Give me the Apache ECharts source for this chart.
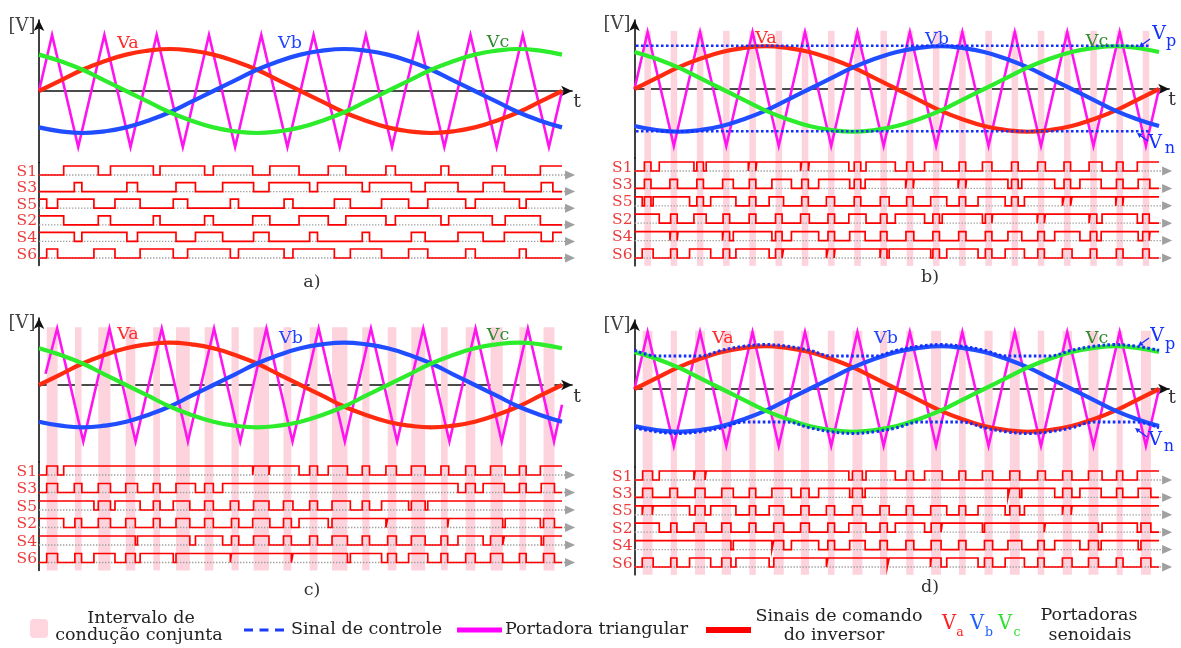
<!DOCTYPE html>
<html><head><meta charset="utf-8">
<script src="https://cdn.jsdelivr.net/npm/echarts@6/dist/echarts.min.js"></script>
<style>html,body{margin:0;padding:0;background:#fff}#c{width:1181px;height:648px}</style>
</head><body><div id="c"></div>
<script>
// ---------- DATA ----------
const theta = [0,15,30,45,60,75,90,105,120,135,150,165,180,195,210,225,240,255,270,285,300,315,330,345,360];
const Va = [0,0.19,0.38,0.53,0.65,0.72,0.75,0.72,0.65,0.53,0.38,0.19,0,-0.19,-0.38,-0.53,-0.65,-0.72,-0.75,-0.72,-0.65,-0.53,-0.38,-0.19,0];
const Vb = [-0.65,-0.72,-0.75,-0.72,-0.65,-0.53,-0.38,-0.19,0,0.19,0.38,0.53,0.65,0.72,0.75,0.72,0.65,0.53,0.38,0.19,0,-0.19,-0.38,-0.53,-0.65];
const Vc = [0.65,0.53,0.38,0.19,0,-0.19,-0.38,-0.53,-0.65,-0.72,-0.75,-0.72,-0.65,-0.53,-0.38,-0.19,0,0.19,0.38,0.53,0.65,0.72,0.75,0.72,0.65];

const carrierT = [0,9,27,45,63,81,99,117,135,153,171,189,207,225,243,261,279,297,315,333,351,360];
const carrierV = [0,1,-1,1,-1,1,-1,1,-1,1,-1,1,-1,1,-1,1,-1,1,-1,1,-1,0];
const carrierCT = [4.5,12.5,30.5,48.5,66.5,84.5,102.5,120.5,138.5,156.5,174.5,192.5,210.5,228.5,246.5,264.5,282.5,300.5,318.5,336.5,354.5,360];
const carrierCV = [0.2,1,-1,1,-1,1,-1,1,-1,1,-1,1,-1,1,-1,1,-1,1,-1,1,-1,-0.35];

const ctrlB_t = [1, 354];
const ctrlB_p = [0.76, 0.76];
const ctrlB_n = [-0.74, -0.74];
const ctrlD_p = [0.68,0.58,0.58,0.58,0.68,0.75,0.78,0.75,0.68,0.58,0.58,0.58,0.68,0.75,0.78,0.75,0.68,0.58,0.58,0.58,0.68,0.75,0.78,0.75,0.68];
const ctrlD_n = [-0.68,-0.75,-0.78,-0.75,-0.68,-0.58,-0.58,-0.58,-0.68,-0.75,-0.78,-0.75,-0.68,-0.58,-0.58,-0.58,-0.68,-0.75,-0.78,-0.75,-0.68,-0.58,-0.58,-0.58,-0.68];

const signalNames = ['S1','S3','S5','S2','S4','S6'];

// switching instants (degrees of the fundamental), state toggles at each instant
const a_init = [0,0,1,1,1,0];
const a_S1 = [17.0,40.8,49.2,78.7,83.3,114.0,120.0,147.1,158.9,179.0,199.1,211.2,238.8,245.3,276.7,282.0,312.0,320.9,345.1];
const a_S3 = [24.3,29.5,60.5,67.8,94.3,107.7,126.4,147.7,158.3,186.3,191.7,222.5,227.5,256.3,265.8,288.4,305.7,320.3,345.7,353.7];
const a_S5 = [5.3,12.8,37.8,52.3,69.6,92.4,102.3,131.7,137.3,168.7,174.8,203.3,214.3,235.8,254.4,267.6,293.7,300.3,330.7,335.3];
const a_S2 = [17.0,40.8,49.2,78.7,83.3,114.0,120.0,147.1,158.9,179.0,199.1,211.2,238.8,245.3,276.7,282.0,312.0,320.9,345.1];
const a_S4 = [24.3,29.5,60.5,67.8,94.3,107.7,126.4,147.7,158.3,186.3,191.7,222.5,227.5,256.3,265.8,288.4,305.7,320.3,345.7,353.7];
const a_S6 = [5.3,12.8,37.8,52.3,69.6,92.4,102.3,131.7,137.3,168.7,174.8,203.3,214.3,235.8,254.4,267.6,293.7,300.3,330.7,335.3];

const b_init = [0,0,1,1,1,0];
const b_S1 = [6.8,11.3,17.0,40.8,42.8,47.3,49.2,78.1,78.8,83.3,83.9,114.0,114.8,119.3,120.0,147.1,150.8,155.3,158.9,179.0,186.8,191.3,199.1,211.2,222.8,227.3,238.8,245.3,258.8,263.3,276.7,282.0,294.8,299.3,312.0,320.9,330.8,335.3,345.1];
const b_S3 = [6.8,11.3,24.3,29.5,42.8,47.3,60.5,67.8,78.8,83.3,94.3,107.7,114.8,119.3,126.4,147.7,150.8,155.3,158.3,186.1,186.8,191.3,191.9,222.1,222.8,227.3,227.9,256.3,258.8,263.3,265.8,288.4,294.8,299.3,305.7,320.3,330.8,335.3,345.7,353.7];
const b_S5 = [5.3,6.8,11.3,12.8,37.8,42.8,47.3,52.3,69.6,78.8,83.3,92.4,102.3,114.8,119.3,131.7,137.3,150.8,155.3,168.7,174.8,186.8,191.3,203.3,214.3,222.8,227.3,235.8,254.4,258.8,263.3,267.6,293.7,294.8,299.3,300.3,330.3,330.9,335.1,335.7];
const b_S2 = [17.0,24.8,29.3,40.8,49.2,60.8,65.3,78.7,83.3,96.8,101.3,114.0,120.0,132.8,137.3,147.1,158.9,168.8,173.3,179.0,199.1,204.8,209.3,211.2,238.8,240.8,245.3,245.8,276.4,276.9,281.3,282.0,312.0,312.8,317.3,320.9,345.1,348.8,353.3];
const b_S4 = [24.3,24.8,29.3,29.8,60.4,60.9,65.3,67.8,94.3,96.8,101.3,107.7,126.4,132.8,137.3,147.7,158.3,168.8,173.3,186.3,191.7,204.8,209.3,222.5,227.5,240.8,245.3,256.3,265.8,276.8,281.3,288.4,305.7,312.8,317.3,320.3,345.7,348.8,353.3,353.8];
const b_S6 = [5.3,12.8,24.8,29.3,37.8,52.3,60.8,65.3,69.6,92.4,96.8,101.3,102.3,131.7,132.8,137.0,137.6,168.5,169.1,173.3,174.8,203.3,204.8,209.3,214.3,235.8,240.8,245.3,254.4,267.6,276.8,281.3,293.7,300.3,312.8,317.3,330.7,335.3,348.8,353.3];

const c_init = [0,0,1,1,1,0];
const c_S1 = [5.3,12.8,17.0,147.1,147.7,158.3,158.9,179.0,186.3,191.7,199.1,212.3,222.5,227.5,238.8,246.0,256.3,265.8,276.7,282.0,293.7,300.3,310.8,320.9,330.7,335.3,345.1];
const c_S3 = [5.3,12.8,24.3,29.5,40.8,49.2,59.7,67.8,78.7,83.3,94.3,107.7,114.0,120.0,126.4,288.4,293.7,300.3,305.7,320.3,330.7,335.3,345.7,354.8];
const c_S5 = [37.8,40.8,49.2,52.3,69.6,78.7,83.3,92.4,103.8,114.0,120.0,131.7,137.5,147.7,158.3,168.3,174.8,186.3,191.7,201.7,214.3,222.5,227.5,235.8,254.4,256.3,265.8,267.6];
const c_S2 = [17.0,24.7,29.3,40.8,49.2,59.7,66.3,78.7,83.3,94.3,103.8,114.0,120.0,132.5,137.5,147.1,158.9,168.3,173.7,179.0,199.1,201.7,238.8,240.0,281.3,282.0,319.2,320.9,345.1,347.3,354.8];
const c_S4 = [66.3,67.8,103.8,107.7,126.4,132.5,137.5,147.7,158.3,168.3,173.7,186.3,191.7,201.7,212.3,222.5,227.5,240.0,246.0,256.3,265.8,276.7,281.3,288.4,305.7,310.8,319.2,320.3,345.7,347.3];
const c_S6 = [5.3,12.8,24.7,29.3,37.8,52.3,59.7,66.3,69.6,92.4,94.3,131.7,132.5,173.7,174.8,212.3,214.3,235.8,240.0,246.0,254.4,267.6,276.7,281.3,293.7,300.3,310.8,319.2,330.7,335.3,347.3,354.8];

const d_init = [0,0,1,1,1,0];
const d_S1 = [5.6,12.4,17.0,40.8,41.6,48.4,49.2,147.1,149.6,156.4,158.9,179.0,186.5,191.5,199.1,211.2,222.7,227.3,238.8,245.8,257.6,264.4,276.7,282.0,293.9,300.2,311.6,320.9,330.9,335.1,345.1];
const d_S3 = [5.6,12.4,24.3,29.5,41.6,48.4,59.9,67.8,78.8,83.2,94.3,107.7,114.2,119.8,126.4,147.7,149.6,156.4,158.3,256.3,257.6,264.4,265.8,288.4,293.9,300.2,305.7,320.3,330.9,335.1,345.7,354.4];
const d_S5 = [5.3,5.9,12.2,12.8,37.8,41.6,48.4,52.3,69.6,78.8,83.2,92.4,102.4,114.2,119.8,131.7,137.3,149.6,156.4,168.5,174.8,186.5,191.5,203.3,214.3,222.7,227.3,235.8,254.4,257.6,264.4,267.6,293.7,294.3,299.7,300.3];
const d_S2 = [17.0,24.9,29.1,40.8,49.2,59.9,66.2,78.7,83.3,95.6,102.4,114.0,120.0,132.7,137.3,147.1,158.9,168.5,173.5,179.0,199.1,203.6,210.4,211.2,238.8,240.2,281.2,282.0,318.4,320.9,345.1,347.6,354.4];
const d_S4 = [66.2,67.8,94.3,95.6,102.4,107.7,126.4,132.7,137.3,147.7,158.3,168.5,173.5,186.3,191.7,203.6,210.4,222.5,227.5,240.2,245.8,256.3,265.8,276.8,281.2,288.4,305.7,311.6,318.4,320.3,345.7,347.6];
const d_S6 = [5.3,12.8,24.9,29.1,37.8,52.3,59.9,66.2,69.6,92.4,95.6,131.7,132.7,173.5,174.8,203.1,203.7,210.4,214.3,235.8,240.2,245.8,254.4,267.6,276.8,281.2,293.7,300.3,311.6,318.4,330.7,335.3,347.6,354.4];

// joint-conduction (shoot-through) intervals
const stripesB = [[6.8,11.3],[24.8,29.3],[42.8,47.3],[60.8,65.3],[78.8,83.3],[96.8,101.3],[114.8,119.3],[132.8,137.3],[150.8,155.3],[168.8,173.3],[186.8,191.3],[204.8,209.3],[222.8,227.3],[240.8,245.3],[258.8,263.3],[276.8,281.3],[294.8,299.3],[312.8,317.3],[330.8,335.3],[348.8,353.3]];
const stripesC = [[5.3,12.8],[24.7,29.3],[40.8,49.2],[59.7,66.3],[78.7,83.3],[94.3,103.8],[114.0,120.0],[132.5,137.5],[147.7,158.3],[168.3,173.7],[186.3,191.7],[201.7,212.3],[222.5,227.5],[240.0,246.0],[256.3,265.8],[276.7,281.3],[293.7,300.3],[310.8,319.2],[330.7,335.3],[347.3,354.8]];
const stripesD = [[5.6,12.4],[24.9,29.1],[41.6,48.4],[59.9,66.2],[78.8,83.2],[95.6,102.4],[114.2,119.8],[132.7,137.3],[149.6,156.4],[168.5,173.5],[186.5,191.5],[203.6,210.4],[222.7,227.3],[240.2,245.8],[257.6,264.4],[276.8,281.2],[293.9,300.2],[311.6,318.4],[330.9,335.1],[347.6,354.4]];

// ---------- LAYOUT ----------
const C = {va:'#ff2b10', vb:'#1f4dff', vc:'#2cec2c', car:'#ff14f0', sig:'#ff0000', ctrl:'#1230ff', pink:'#fdd3dd'};
const SERIF = 'DejaVu Serif';
const panels = [
  {id:'a', left:39, ppd:1.4528, y0:91, unit:56, top:20, s1:175, step:16.6,
   init:a_init, sig:[a_S1,a_S3,a_S5,a_S2,a_S4,a_S6], cT:carrierT, cV:carrierV, stripes:null, ctrl:null,
   lab:{V:[22,26], t:[577,102], Va:[128,43], Vb:[290,43], Vc:[498,42], p:[312,282]}},
  {id:'b', left:634.5, ppd:1.457, y0:89, unit:57, top:20, s1:171, step:17.4,
   init:b_init, sig:[b_S1,b_S3,b_S5,b_S2,b_S4,b_S6], cT:carrierT, cV:carrierV, stripes:stripesB, ctrl:'B',
   lab:{V:[617,24], t:[1172,100], Va:[766,38], Vb:[937,39], Vc:[1097,41], p:[930,277]}},
  {id:'c', left:39, ppd:1.4528, y0:385, unit:56.5, top:318, s1:475, step:17.5,
   init:c_init, sig:[c_S1,c_S3,c_S5,c_S2,c_S4,c_S6], cT:carrierCT, cV:carrierCV, stripes:stripesC, ctrl:null,
   lab:{V:[22,323], t:[577,397], Va:[128,334], Vb:[291,338], Vc:[498,335], p:[312,590]}},
  {id:'d', left:634.5, ppd:1.457, y0:389, unit:57, top:320, s1:480, step:17.4,
   init:d_init, sig:[d_S1,d_S3,d_S5,d_S2,d_S4,d_S6], cT:carrierT, cV:carrierV, stripes:stripesD, ctrl:'D',
   lab:{V:[617,325], t:[1172,398], Va:[723,338], Vb:[886,338], Vc:[1097,338], p:[930,587]}}
];

const zip = (a, b) => a.map((x, i) => [x, b[i]]);
function sigPoints(init, toggles, level, h) {
  let s = init; const pts = [[0, level + s * h]];
  for (const t of toggles) { pts.push([t, level + s * h]); s = 1 - s; pts.push([t, level + s * h]); }
  pts.push([360, level + s * h]);
  return pts;
}

const grids = [], xAxes = [], yAxes = [], series = [], graphics = [];
const hidden = {axisTick:{show:false}, axisLabel:{show:false}, splitLine:{show:false}};

function txt(x, y, s, size, color, align, font) {
  return {type:'text', x:x, y:y, z:100, silent:true,
    style:{text:s, font:size + 'px "' + (font || SERIF) + '", serif', fill:color,
      textAlign:align || 'center', textVerticalAlign:'middle', align:align || 'center', verticalAlign:'middle'}};
}
function arrow(x1, y1, x2, y2, color) {
  const a = Math.atan2(y2 - y1, x2 - x1), L = 5, W = 2.6;
  const bx = x2 - L * Math.cos(a), by = y2 - L * Math.sin(a);
  const nx = -Math.sin(a) * W, ny = Math.cos(a) * W;
  return [
    {type:'line', z:100, silent:true, shape:{x1:x1, y1:y1, x2:bx, y2:by}, style:{stroke:color, lineWidth:1.3}},
    {type:'polygon', z:100, silent:true, shape:{points:[[x2, y2], [bx + nx, by + ny], [bx - nx, by - ny]]}, style:{fill:color}}
  ];
}

panels.forEach((P, i) => {
  const gS = 2 * i, gW = 2 * i + 1;
  const s6 = P.s1 + 5 * P.step;
  const swMin = -0.45, swMax = 5.75;
  const swTop = s6 - swMax * P.step, swBot = s6 - swMin * P.step;
  const yMax = (P.y0 - P.top) / P.unit, yMin = -(swTop - P.y0) / P.unit;
  grids.push({left:P.left, top:P.top, width:367 * P.ppd, height:swTop - P.top, outerBoundsMode:'none'});
  grids.push({left:P.left, top:swTop, width:372 * P.ppd, height:swBot - swTop, outerBoundsMode:'none'});
  xAxes.push(Object.assign({gridIndex:gS, type:'value', min:0, max:367,
    axisLine:{show:true, onZero:true, symbol:['none','arrow'], symbolSize:[8,11], lineStyle:{color:'#111', width:1.6}}}, hidden));
  yAxes.push(Object.assign({gridIndex:gS, type:'value', min:yMin, max:yMax,
    axisLine:{show:true, onZero:false, symbol:['none','arrow'], symbolSize:[8,11], lineStyle:{color:'#111', width:1.6}}}, hidden));
  xAxes.push(Object.assign({gridIndex:gW, type:'value', min:0, max:372, axisLine:{show:false}}, hidden));
  yAxes.push(Object.assign({gridIndex:gW, type:'value', min:swMin, max:swMax,
    axisLine:{show:true, onZero:false, lineStyle:{color:'#111', width:1.6}}}, hidden));

  // pink stripes
  if (P.stripes) {
    const mk = (gi, yT, yB) => ({type:'custom', xAxisIndex:gi, yAxisIndex:gi, data:P.stripes, z:1, silent:true, clip:false,
      encode:{x:[0,1]},
      renderItem:(params, api) => {
        const p1 = api.coord([api.value(0), yT]), p2 = api.coord([api.value(1), yB]);
        return {type:'rect', shape:{x:p1[0], y:p1[1], width:p2[0] - p1[0], height:p2[1] - p1[1]}, style:{fill:C.pink}};
      }});
    series.push(mk(gS, 1.02, yMin));
    series.push(mk(gW, swMax, swMin));
  }
  // carrier
  series.push({type:'line', xAxisIndex:gS, yAxisIndex:gS, data:zip(P.cT, P.cV), showSymbol:false, z:3, silent:true,
    lineStyle:{color:C.car, width:2.6, join:'miter', miterLimit:20}});
  // sines
  [[Va, C.va], [Vb, C.vb], [Vc, C.vc]].forEach(([arr, col]) => {
    series.push({type:'line', xAxisIndex:gS, yAxisIndex:gS, data:zip(theta, arr), smooth:true, showSymbol:false, z:4, silent:true,
      lineStyle:{color:col, width:4.2}});
  });
  // control signals
  if (P.ctrl === 'B') {
    [ctrlB_p, ctrlB_n].forEach(arr => series.push({type:'line', xAxisIndex:gS, yAxisIndex:gS, data:zip(ctrlB_t, arr), showSymbol:false, z:6, silent:true,
      lineStyle:{color:C.ctrl, width:2.6, type:[2.6, 2.4]}}));
  }
  if (P.ctrl === 'D') {
    [ctrlD_p, ctrlD_n].forEach(arr => series.push({type:'line', xAxisIndex:gS, yAxisIndex:gS, data:zip(theta, arr), smooth:0.35, showSymbol:false, z:6, silent:true,
      lineStyle:{color:C.ctrl, width:3, type:[2.6, 2.4]}}));
  }
  // gray dotted baselines with arrowheads
  series.push({type:'custom', xAxisIndex:gW, yAxisIndex:gW, data:[[0,5],[0,4],[0,3],[0,2],[0,1],[0,0]], z:2, silent:true, clip:false,
    renderItem:(params, api) => {
      const lv = api.value(1), p0 = api.coord([0, lv]), p1 = api.coord([369, lv]);
      return {type:'group', children:[
        {type:'line', shape:{x1:p0[0], y1:p0[1], x2:p1[0] - 7, y2:p1[1]}, style:{stroke:'#a0a0a0', lineWidth:1.3, lineDash:[1.4,1.6]}},
        {type:'polygon', shape:{points:[[p1[0] - 10, p1[1] - 4.5], [p1[0], p1[1]], [p1[0] - 10, p1[1] + 4.5]]}, style:{fill:'#a0a0a0'}}
      ]};
    }});
  // switching signals
  const h = 9 / P.step;
  P.sig.forEach((tg, r) => {
    series.push({type:'line', xAxisIndex:gW, yAxisIndex:gW, data:sigPoints(P.init[r], tg, 5 - r, h), showSymbol:false, z:5, silent:true,
      lineStyle:{color:C.sig, width:1.7, join:'miter'}});
    graphics.push(txt(P.left - 2, P.s1 + r * P.step - 3.5, signalNames[r], 15.5, '#ee3a3a', 'right'));
  });
  // labels
  graphics.push(txt(P.lab.V[0], P.lab.V[1], '[V]', 18, '#444'));
  graphics.push(txt(P.lab.t[0], P.lab.t[1], 't', 19, '#333'));
  graphics.push(txt(P.lab.Va[0], P.lab.Va[1], 'Va', 17.5, '#ff2a2a'));
  graphics.push(txt(P.lab.Vb[0], P.lab.Vb[1], 'Vb', 17.5, '#2244ff'));
  graphics.push(txt(P.lab.Vc[0], P.lab.Vc[1], 'Vc', 17.5, '#2e8b2e'));
  graphics.push(txt(P.lab.p[0], P.lab.p[1], P.id + ')', 17.5, '#333'));
});

// Vp / Vn annotations
[[1159, 34, 1171, 42], [1157, 336, 1170, 345]].forEach(([x, y, xs, ys]) => {
  graphics.push(txt(x, y, 'V', 19, C.ctrl));
  graphics.push(txt(xs, ys, 'p', 16, C.ctrl));
});
[[1155, 143, 1170, 149], [1155, 440, 1169, 447]].forEach(([x, y, xs, ys]) => {
  graphics.push(txt(x, y, 'V', 19, C.ctrl));
  graphics.push(txt(xs, ys, 'n', 16, C.ctrl));
});
graphics.push(...arrow(1150, 39, 1139, 47, C.ctrl));
graphics.push(...arrow(1148, 141, 1137, 133, C.ctrl));
graphics.push(...arrow(1149, 338, 1138, 346, C.ctrl));
graphics.push(...arrow(1147, 437, 1135, 428, C.ctrl));

// legend
const LF = 'DejaVu Serif', LS = 17.5, LC = '#222';
graphics.push({type:'rect', z:100, silent:true, shape:{x:30, y:619, width:18, height:19, r:4}, style:{fill:'#ffd5de'}});
graphics.push(txt(141, 618, 'Intervalo de', LS, LC, 'center', LF));
graphics.push(txt(139, 635, 'condução conjunta', LS, LC, 'center', LF));
graphics.push({type:'line', z:100, silent:true, shape:{x1:244, y1:630, x2:290, y2:630}, style:{stroke:'#1a3cff', lineWidth:3, lineDash:[9,6.5]}});
graphics.push(txt(291, 629, 'Sinal de controle', LS, LC, 'left', LF));
graphics.push({type:'line', z:100, silent:true, shape:{x1:457, y1:630, x2:502, y2:630}, style:{stroke:'#ff00ff', lineWidth:5}});
graphics.push(txt(505, 629, 'Portadora triangular', LS, LC, 'left', LF));
graphics.push({type:'line', z:100, silent:true, shape:{x1:706, y1:630, x2:751, y2:630}, style:{stroke:'#ff0000', lineWidth:6}});
graphics.push(txt(839, 616, 'Sinais de comando', LS, LC, 'center', LF));
graphics.push(txt(834, 635, 'do inversor', LS, LC, 'center', LF));
[['a', '#ff2020', 949, 960], ['b', '#2060ff', 977, 989], ['c', '#30e030', 1005, 1017]].forEach(([s, col, xv, xs]) => {
  graphics.push(txt(xv, 624, 'V', 19.5, col, 'center'));
  graphics.push(txt(xs, 633, s, 12.5, col, 'center'));
});
graphics.push(txt(1089, 615, 'Portadoras', LS, LC, 'center', LF));
graphics.push(txt(1090, 635, 'senoidais', LS, LC, 'center', LF));

const chart = echarts.init(document.getElementById('c'), null, {renderer:'canvas'});
chart.setOption({
  animation:false,
  backgroundColor:'#fff',
  grid:grids, xAxis:xAxes, yAxis:yAxes, series:series, graphic:graphics
});
</script>
</body></html>
